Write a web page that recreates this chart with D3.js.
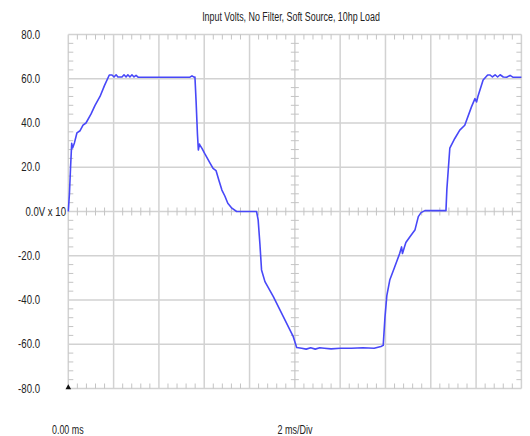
<!DOCTYPE html>
<html><head><meta charset="utf-8">
<script src="https://cdn.jsdelivr.net/npm/d3@7"></script>
<style>
body{margin:0;background:#fff;}
svg text{font-family:"Liberation Sans Narrow","Arial Narrow","Liberation Sans",Arial,sans-serif;font-size:12px;fill:#222;}
</style></head>
<body><svg id="c" width="530" height="436"></svg>
<script>
const title = "Input Volts, No Filter, Soft Source, 10hp Load";
const yTicks = [80, 60, 40, 20, 0, -20, -40, -60, -80];
const yTickLabels = ["80.0", "60.0", "40.0", "20.0", "0.0V x 10", "-20.0", "-40.0", "-60.0", "-80.0"];
const xStartLabel = "0.00 ms";
const xDivLabel = "2 ms/Div";
const timeMs = [0,0.05,0.1,0.15,0.19,0.27,0.38,0.52,0.65,0.78,1.0,1.18,1.4,1.6,1.81,1.93,2.02,2.11,2.19,2.28,2.37,2.46,2.55,2.63,2.72,2.81,2.9,2.99,3.08,4.0,5.0,5.37,5.46,5.55,5.59,5.64,5.7,5.74,5.79,5.81,5.9,6.03,6.25,6.39,6.52,6.65,6.78,6.91,7.04,7.22,7.43,8.0,8.31,8.38,8.46,8.53,8.68,9.05,9.49,9.93,10.08,10.3,10.5,10.7,10.9,11.1,11.3,11.6,12.0,12.5,13.0,13.5,13.8,13.9,13.98,14.06,14.19,14.41,14.63,14.71,14.75,14.9,15.08,15.3,15.45,15.57,15.74,16.2,16.67,16.71,16.84,17.06,17.28,17.5,17.8,17.95,18.02,18.08,18.31,18.51,18.62,18.72,18.84,18.95,19.06,19.2,19.35,19.5,19.62,19.75,20.0];
const volts = [0,8,20,30.8,28.7,31,35.5,36.5,39,40,44,48,52,57,61.7,61.7,60.8,61.8,60.8,60.8,60.8,61.8,60.8,61.8,60.8,61.8,60.8,61.5,60.7,60.7,60.7,60.7,61.3,60.7,60.8,50,35,27.8,30.5,30,28.5,26,22,19.5,18.5,14,9.7,7,3.7,1.5,0,0,0,-3.8,-15,-26.4,-31.7,-38.5,-47.5,-56.6,-61.5,-61.8,-62.2,-61.6,-62.2,-61.6,-61.8,-62.1,-61.8,-61.8,-61.6,-61.8,-61,-60.5,-47.5,-38,-31,-25,-18.9,-16,-19,-14,-11.4,-8.4,-2.3,-0.5,0.4,0.4,0.4,10,28.6,33,36.8,39,47.4,51,49.5,52,59.4,61.7,61.7,60.8,61.8,60.8,61.8,60.8,60.7,61.5,60.7,60.7,60.7];

const svg = d3.select("#c");
const L = 68.3, R = 521.4, T = 34.5, B = 388.5;
const x = d3.scaleLinear().domain([0, 20]).range([L, R]);
const y = d3.scaleLinear().domain([-80, 80]).range([B, T]);
const gridC = "#d2d2d2", tickC = "#c4c4c4";

// gridlines
const g = svg.append("g");
g.selectAll("line.v").data(d3.range(0, 21, 2)).join("line")
  .attr("x1", d => x(d)).attr("x2", d => x(d)).attr("y1", T).attr("y2", B)
  .attr("stroke", gridC).attr("stroke-width", 1.5);
g.selectAll("line.h").data(yTicks).join("line")
  .attr("y1", d => y(d)).attr("y2", d => y(d)).attr("x1", L).attr("x2", R)
  .attr("stroke", gridC).attr("stroke-width", 1.5);

// minor ticks
const minorX = d3.range(0, 20.001, 0.4).filter(t => Math.abs(t/2 - Math.round(t/2)) > 1e-6);
const minorY = d3.range(-80, 80.001, 4).filter(v => v % 20 !== 0);
const tk = svg.append("g").attr("stroke", tickC).attr("stroke-width", 1);
function hTicks(yv, a, b) {
  tk.append("g").selectAll("line").data(minorX).join("line")
    .attr("x1", d => x(d)).attr("x2", d => x(d)).attr("y1", y(yv) + a).attr("y2", y(yv) + b);
}
function vTicks(xv, a, b) {
  tk.append("g").selectAll("line").data(minorY).join("line")
    .attr("y1", d => y(d)).attr("y2", d => y(d)).attr("x1", x(xv) + a).attr("x2", x(xv) + b);
}
hTicks(80, 0, 5); hTicks(-80, -5, 0); hTicks(0, -4, 4);
vTicks(0, 0, 5); vTicks(20, -5, 0); vTicks(10, -4, 4);

// waveform
const data = timeMs.map((t, i) => [t, volts[i]]);
svg.append("path").datum(data)
  .attr("fill", "none").attr("stroke", "#4848f8").attr("stroke-width", 1.6)
  .attr("stroke-linejoin", "round")
  .attr("d", d3.line().x(d => x(d[0])).y(d => y(d[1])));

// marker
svg.append("path").attr("d", d3.symbol(d3.symbolTriangle, 14)())
  .attr("transform", `translate(${L},${B - 1})`).attr("fill", "#111");

// condense text horizontally (narrow font look)
function condense(sel, f) {
  sel.each(function () {
    const w = this.getComputedTextLength();
    d3.select(this).attr("textLength", w * f).attr("lengthAdjust", "spacingAndGlyphs");
  });
}

// labels
const tt = svg.append("text").attr("x", 291).attr("y", 21).attr("text-anchor", "middle").text(title);
condense(tt, 0.74);
const yl = svg.selectAll("text.yl").data(yTicks).join("text")
  .attr("x", d => d === 0 ? 66 : 40).attr("y", d => y(d) + 4)
  .attr("text-anchor", "end").text((d, i) => yTickLabels[i]);
condense(yl, 0.8);
const b1 = svg.append("text").attr("x", 52).attr("y", 434).text(xStartLabel);
condense(b1, 0.74);
const b2 = svg.append("text").attr("x", 295).attr("y", 434).attr("text-anchor", "middle").text(xDivLabel);
condense(b2, 0.75);
</script></body></html>
